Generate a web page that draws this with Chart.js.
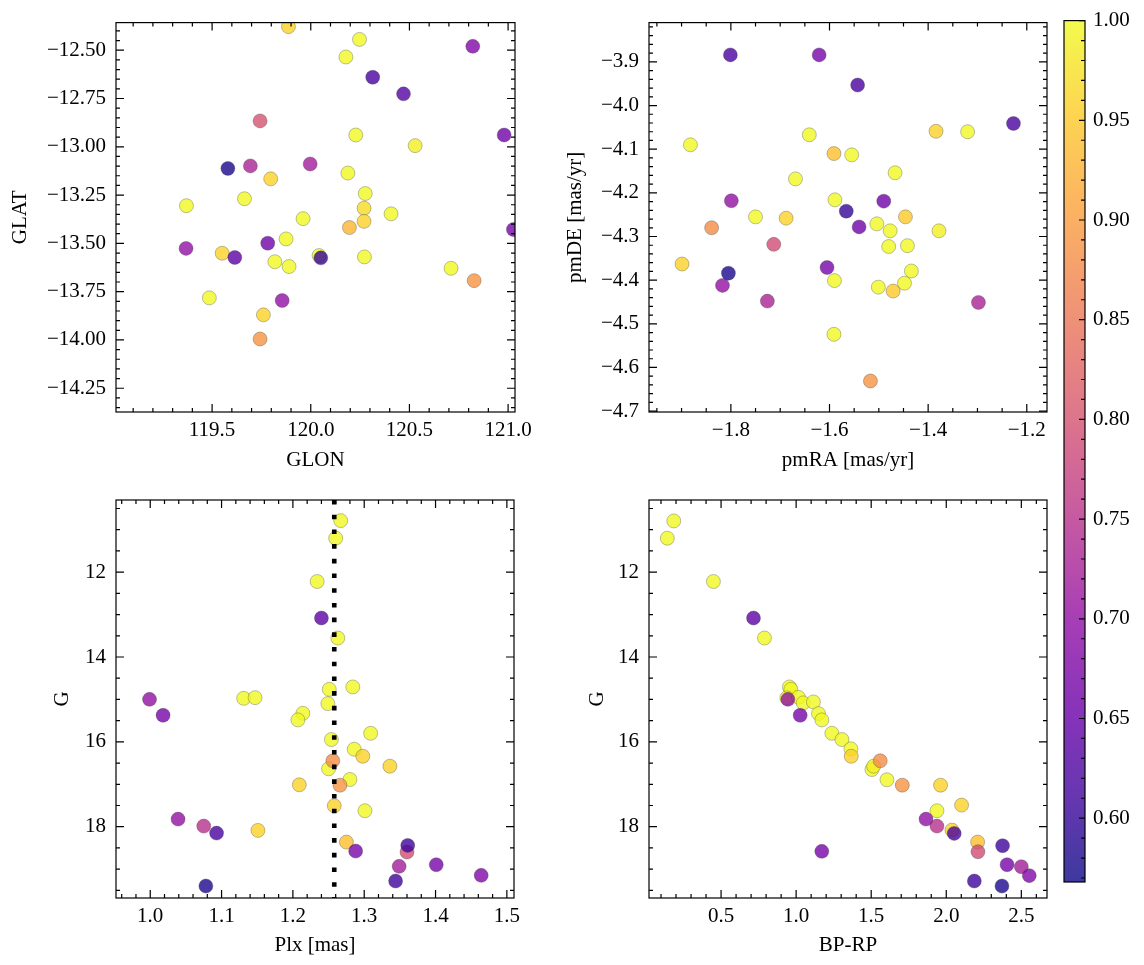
<!DOCTYPE html>
<html lang="en">
<head>
<meta charset="UTF-8">
<title>Cluster members</title>
<script src="https://cdn.jsdelivr.net/npm/chart.js@4.4.0/dist/chart.umd.min.js"></script>
<style>
  body { margin: 0; background: #fff; }
  #wrap { position: relative; width: 1144px; height: 965px; }
  #wrap canvas { position: absolute; left: 0; top: 0; }
</style>
</head>
<body>
<div id="wrap">
  <canvas id="pos" width="1144" height="965"></canvas>
  <canvas id="pm" width="1144" height="965"></canvas>
  <canvas id="plx" width="1144" height="965"></canvas>
  <canvas id="cmd" width="1144" height="965"></canvas>
  <canvas id="cbar" width="1144" height="965"></canvas>
</div>
<script>
// ---- data ----
var glon = [119.887, 120.247, 120.821, 120.178, 120.314, 120.470, 119.743, 120.980, 120.228, 120.529,
            119.580, 119.694, 119.997, 120.188, 119.797, 120.276, 119.664, 119.370, 120.270, 120.407,
            119.961, 120.270, 120.196, 121.027, 119.368, 119.551, 119.615, 119.782, 119.875, 119.818,
            119.890, 120.042, 120.051, 120.272, 120.711, 120.828, 119.486, 119.855, 119.760, 119.743];
var glat = [-12.378, -12.444, -12.480, -12.535, -12.640, -12.726, -12.866, -12.939, -12.939, -12.994,
            -13.112, -13.099, -13.089, -13.136, -13.166, -13.242, -13.269, -13.305, -13.318, -13.347,
            -13.372, -13.386, -13.418, -13.428, -13.526, -13.551, -13.573, -13.499, -13.477, -13.595,
            -13.620, -13.563, -13.575, -13.570, -13.629, -13.693, -13.782, -13.796, -13.870, -13.995];
var probPos = [0.96, 1.00, 0.68, 1.00, 0.62, 0.63, 0.80, 0.66, 1.00, 0.99,
               0.58, 0.73, 0.72, 1.00, 0.96, 1.00, 1.00, 1.00, 0.97, 1.00,
               1.00, 0.96, 0.93, 0.67, 0.70, 0.96, 0.64, 0.66, 1.00, 1.00,
               1.00, 1.00, 0.60, 1.00, 1.00, 0.89, 1.00, 0.70, 0.96, 0.89];

var pmra = [-1.801, -1.621, -1.543, -1.227, -1.882, -1.641, -1.384, -1.320, -1.591, -1.555,
            -1.467, -1.669, -1.799, -1.589, -1.490, -1.566, -1.750, -1.688, -1.446, -1.839,
            -1.540, -1.504, -1.477, -1.378, -1.713, -1.480, -1.442, -1.899, -1.805, -1.605,
            -1.434, -1.817, -1.590, -1.501, -1.448, -1.471, -1.726, -1.298, -1.591, -1.517];
var pmde = [-3.884, -3.884, -3.953, -4.041, -4.090, -4.067, -4.059, -4.060, -4.110, -4.113,
            -4.154, -4.168, -4.218, -4.216, -4.219, -4.242, -4.255, -4.258, -4.255, -4.280,
            -4.278, -4.271, -4.287, -4.287, -4.318, -4.323, -4.321, -4.363, -4.384, -4.371,
            -4.379, -4.412, -4.401, -4.416, -4.407, -4.425, -4.448, -4.451, -4.524, -4.631];
var probPm = [0.62, 0.67, 0.62, 0.62, 1.00, 1.00, 0.96, 1.00, 0.94, 1.00,
              1.00, 1.00, 0.70, 1.00, 0.66, 0.60, 1.00, 0.96, 0.95, 0.88,
              0.66, 1.00, 1.00, 0.99, 0.79, 1.00, 1.00, 0.96, 0.58, 0.67,
              1.00, 0.70, 1.00, 1.00, 1.00, 0.95, 0.73, 0.73, 1.00, 0.89];

var plx = [1.267, 1.260, 1.234, 1.240, 1.263, 1.284, 1.251, 0.999, 1.131, 1.147,
           1.249, 1.018, 1.214, 1.207, 1.309, 1.254, 1.286, 1.298, 1.256, 1.250,
           1.336, 1.280, 1.266, 1.209, 1.258, 1.301, 1.039, 1.075, 1.093, 1.151,
           1.275, 1.288, 1.360, 1.361, 1.349, 1.401, 1.464, 1.344, 1.078];
var gPlx = [10.786, 11.200, 12.221, 13.082, 13.553, 14.706, 14.762, 14.998, 14.974, 14.958,
            15.099, 15.374, 15.327, 15.483, 15.798, 15.946, 16.174, 16.339, 16.447, 16.635,
            16.574, 16.887, 17.021, 17.012, 17.506, 17.624, 17.821, 17.986, 18.151, 18.087,
            18.362, 18.574, 18.597, 18.440, 18.934, 18.895, 19.146, 19.280, 19.398];
var probPlx = [1.00, 1.00, 1.00, 0.64, 1.00, 1.00, 1.00, 0.70, 1.00, 1.00,
               1.00, 0.67, 1.00, 1.00, 1.00, 1.00, 1.00, 0.96, 0.88, 1.00,
               0.96, 1.00, 0.89, 0.96, 0.96, 1.00, 0.70, 0.75, 0.62, 0.96,
               0.94, 0.67, 0.79, 0.61, 0.72, 0.67, 0.68, 0.61, 0.58];
var plxRef = 1.258;

var bprp = [0.185, 0.142, 0.449, 0.716, 0.789, 0.955, 0.965, 0.945, 0.938, 1.015,
            1.047, 1.115, 1.027, 1.149, 1.171, 1.238, 1.305, 1.365, 1.367, 1.560,
            1.516, 1.505, 1.605, 1.707, 1.962, 2.102, 1.938, 1.865, 1.938, 2.038,
            2.053, 2.209, 2.211, 1.171, 2.375, 2.405, 2.500, 2.553, 2.187, 2.371];
var gCmd = [10.793, 11.200, 12.221, 13.082, 13.553, 14.706, 14.762, 14.998, 14.965, 14.950,
            15.082, 15.059, 15.374, 15.334, 15.483, 15.798, 15.946, 16.165, 16.339, 16.447,
            16.574, 16.652, 16.894, 17.021, 17.021, 17.491, 17.624, 17.821, 17.986, 18.080,
            18.158, 18.362, 18.589, 18.581, 18.447, 18.895, 18.942, 19.153, 19.280, 19.398];
var probCmd = [1.00, 1.00, 1.00, 0.64, 1.00, 1.00, 1.00, 0.70, 1.00, 1.00,
               1.00, 1.00, 0.67, 1.00, 1.00, 1.00, 1.00, 1.00, 0.96, 0.88,
               0.99, 1.00, 1.00, 0.89, 0.96, 0.96, 1.00, 0.70, 0.75, 0.96,
               0.62, 0.94, 0.79, 0.67, 0.61, 0.67, 0.72, 0.68, 0.61, 0.58];

// tick labels
var glonTicks = [119.5, 120.0, 120.5, 121.0];
var glatTicks = [-12.5, -12.75, -13.0, -13.25, -13.5, -13.75, -14.0, -14.25];
var pmraTicks = [-1.8, -1.6, -1.4, -1.2];
var pmdeTicks = [-3.9, -4.0, -4.1, -4.2, -4.3, -4.4, -4.5, -4.6, -4.7];
var plxTicks = [1.0, 1.1, 1.2, 1.3, 1.4, 1.5];
var bprpTicks = [0.5, 1.0, 1.5, 2.0, 2.5];
var gTicks = [12, 14, 16, 18];
var probTicks = [0.60, 0.65, 0.70, 0.75, 0.80, 0.85, 0.90, 0.95, 1.00];
var probMin = 0.568, probMax = 1.0;

// ---- styling helpers ----
var FONT = { family: '"Liberation Serif", "DejaVu Serif", serif', size: 21 };
var plasmaHex = ['#0d0887', '#41049d', '#6a00a8', '#8f0da4', '#b12a90', '#cc4778',
                 '#e16462', '#f2844b', '#fca636', '#fcce25', '#f0f921'];
var plasmaRgb = plasmaHex.map(function (h) {
  return [parseInt(h.substr(1, 2), 16), parseInt(h.substr(3, 2), 16), parseInt(h.substr(5, 2), 16)];
});
function plasma(p, alpha) {
  var t = (p - probMin) / (probMax - probMin);
  t = Math.max(0, Math.min(1, t));
  var f = t * 10, i = Math.min(9, Math.floor(f)), u = f - i;
  var a = plasmaRgb[i], b = plasmaRgb[i + 1];
  var c = [0, 1, 2].map(function (k) { return Math.round(a[k] + (b[k] - a[k]) * u); });
  return 'rgba(' + c[0] + ',' + c[1] + ',' + c[2] + ',' + alpha + ')';
}
function fmt(v, dec) {
  return v.toFixed(dec).replace('-', '\u2212');
}

// ticks pointing inwards on every side, like the matplotlib style
var inTicks = {
  id: 'inTicks',
  afterDraw: function (chart, args, o) {
    var ctx = chart.ctx, a = chart.chartArea;
    ctx.save();
    ctx.strokeStyle = '#000';
    ctx.lineWidth = 1.2;
    ctx.strokeRect(a.left, a.top, a.right - a.left, a.bottom - a.top);
    ctx.beginPath();
    ['x', 'y'].forEach(function (id) {
      var s = chart.scales[id];
      if (!s || !s.options.display) return;
      var major = s.ticks.map(function (t) { return t.value; });
      var minor = [];
      var step = o[id + 'Minor'];
      for (var k = Math.ceil(s.min / step - 1e-6); k <= Math.floor(s.max / step + 1e-6); k++) minor.push(k * step);
      var sides = o.sides || ['lo', 'hi'];
      function mark(v, len) {
        var p = s.getPixelForValue(v);
        if (id === 'x') {
          if (p < a.left - 0.5 || p > a.right + 0.5) return;
          ctx.moveTo(p, a.bottom); ctx.lineTo(p, a.bottom - len);
          ctx.moveTo(p, a.top); ctx.lineTo(p, a.top + len);
        } else {
          if (p < a.top - 0.5 || p > a.bottom + 0.5) return;
          if (sides.indexOf('lo') >= 0) { ctx.moveTo(a.left, p); ctx.lineTo(a.left + len, p); }
          if (sides.indexOf('hi') >= 0) { ctx.moveTo(a.right, p); ctx.lineTo(a.right - len, p); }
        }
      }
      minor.forEach(function (v) { mark(v, o.minorLen || 4); });
      major.forEach(function (v) { mark(v, o.majorLen || 8); });
    });
    ctx.stroke();
    ctx.restore();
  }
};

function axis(opts, side) {
  var horiz = side === 'x';
  return {
    type: 'linear',
    position: horiz ? 'bottom' : opts.pos || 'left',
    display: opts.display !== false,
    reverse: !!opts.reverse,
    min: opts.min, max: opts.max,
    grid: { display: false, drawTicks: false },
    border: { display: false },
    ticks: {
      font: FONT, color: '#000', padding: opts.pad, autoSkip: false, maxRotation: 0,
      callback: function (v) { return fmt(v, opts.dec); }
    },
    afterBuildTicks: function (s) {
      s.ticks = opts.ticks.map(function (v) { return { value: v }; });
    },
    afterFit: function (s) {
      if (horiz) s.height = opts.size; else s.width = opts.size;
    },
    title: {
      display: !!opts.label, text: opts.label, font: FONT, color: '#000',
      padding: horiz ? { top: 0, bottom: opts.titlePad } : { top: opts.titlePad, bottom: 0 }
    }
  };
}

function makePanel(id, area, xs, ys, ps, xo, yo, extra) {
  var pts = xs.map(function (x, i) { return { x: x, y: ys[i], p: ps[i] }; });
  // low membership drawn last so it sits on top
  pts.sort(function (a, b) { return b.p - a.p; });
  var sets = [{
    type: 'scatter',
    data: pts.map(function (d) { return { x: d.x, y: d.y }; }),
    pointRadius: 7,
    pointHoverRadius: 7,
    pointBackgroundColor: pts.map(function (d) { return plasma(d.p, 0.8); }),
    pointBorderColor: 'rgba(60,60,60,0.55)',
    pointBorderWidth: 0.6,
    clip: 0,
    order: 1
  }].concat(extra || []);
  return new Chart(document.getElementById(id), {
    type: 'scatter',
    data: { datasets: sets },
    options: {
      responsive: false, animation: false, devicePixelRatio: 1,
      layout: { padding: { left: area[0] - yo.size, top: area[1], right: 1144 - area[2], bottom: 965 - area[3] - xo.size } },
      plugins: {
        legend: { display: false }, tooltip: { enabled: false },
        inTicks: { xMinor: xo.minor, yMinor: yo.minor }
      },
      scales: { x: axis(xo, 'x'), y: axis(yo, 'y') }
    },
    plugins: [inTicks]
  });
}

// top left: sky position
makePanel('pos', [116, 15, 515, 412], glon, glat, probPos,
  { min: 119.013, max: 121.035, ticks: glonTicks, dec: 1, minor: 0.1, label: 'GLON', size: 61, pad: 6, titlePad: 0 },
  { min: -14.373, max: -12.357, ticks: glatTicks, dec: 2, minor: 0.05, label: 'GLAT', size: 116, pad: 10, titlePad: 8 });

// top right: proper motions
makePanel('pm', [649, 15, 1047, 412], pmra, pmde, probPm,
  { min: -1.966, max: -1.159, ticks: pmraTicks, dec: 1, minor: 0.05, label: 'pmRA [mas/yr]', size: 61, pad: 6, titlePad: 0 },
  { min: -4.702, max: -3.81, ticks: pmdeTicks, dec: 1, minor: 0.02, label: 'pmDE [mas/yr]', size: 89, pad: 10, titlePad: 3 });

// bottom left: parallax vs G, with reference parallax line
var gMin = 10.30, gMax = 19.68;
makePanel('plx', [116, 500, 514, 898], plx, gPlx, probPlx,
  { min: 0.952, max: 1.510, ticks: plxTicks, dec: 1, minor: 0.02, label: 'Plx [mas]', size: 60, pad: 6, titlePad: 0 },
  { min: gMin, max: gMax, reverse: true, ticks: gTicks, dec: 0, minor: 0.5, label: 'G', size: 116, pad: 10, titlePad: 50 },
  [{
    type: 'line',
    data: [{ x: plxRef, y: gMin }, { x: plxRef, y: gMax }],
    borderColor: '#000', borderWidth: 4.6, borderDash: [4.6, 10.1], borderCapStyle: 'butt',
    pointRadius: 0, fill: false, clip: 0, order: 0
  }]);

// bottom right: colour-magnitude diagram
makePanel('cmd', [649, 500, 1047, 898], bprp, gCmd, probCmd,
  { min: 0.02, max: 2.671, ticks: bprpTicks, dec: 1, minor: 0.1, label: 'BP-RP', size: 60, pad: 6, titlePad: 0 },
  { min: gMin, max: gMax, reverse: true, ticks: gTicks, dec: 0, minor: 0.5, label: 'G', size: 89, pad: 10, titlePad: 25 });

// colour bar
var cbArea = [1064, 16.5, 1085, 882];
var cbFill = {
  id: 'cbFill',
  beforeDatasetsDraw: function (chart) {
    var s = chart.scales.y, a = chart.chartArea, ctx = chart.ctx;
    var g = ctx.createLinearGradient(0, s.getPixelForValue(probMin), 0, s.getPixelForValue(probMax));
    for (var i = 0; i <= 40; i++) {
      var v = probMin + (probMax - probMin) * i / 40;
      g.addColorStop(i / 40, plasma(v, 0.8));
    }
    ctx.save();
    ctx.fillStyle = g;
    ctx.fillRect(a.left, a.top, a.right - a.left, a.bottom - a.top);
    ctx.restore();
  }
};
new Chart(document.getElementById('cbar'), {
  type: 'scatter',
  data: { datasets: [{ data: [] }] },
  options: {
    responsive: false, animation: false, devicePixelRatio: 1,
    layout: { padding: { left: cbArea[0], top: cbArea[1], right: 0, bottom: 965 - cbArea[3] } },
    plugins: {
      legend: { display: false }, tooltip: { enabled: false },
      inTicks: { xMinor: 1, yMinor: 0.01, sides: ['hi'], majorLen: 6, minorLen: 4 }
    },
    scales: {
      x: { type: 'linear', display: false, min: 0, max: 1 },
      y: axis({ pos: 'right', min: probMin, max: probMax, ticks: probTicks, dec: 2, minor: 0.01, size: 1144 - cbArea[2], pad: 8, titlePad: 0 }, 'y')
    }
  },
  plugins: [cbFill, inTicks]
});
</script>
</body>
</html>
